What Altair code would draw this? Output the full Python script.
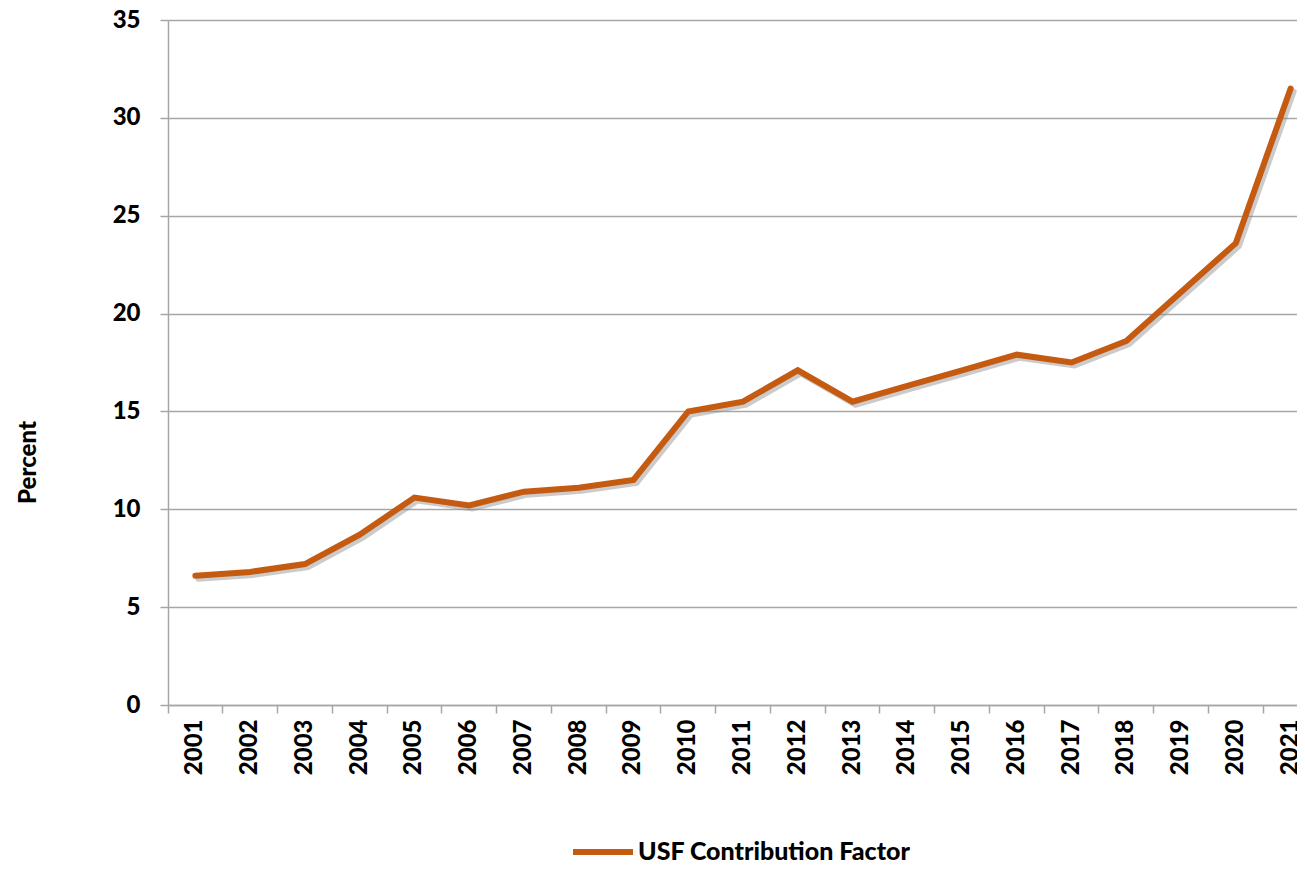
import altair as alt
import pandas as pd

years = ["2001", "2002", "2003", "2004", "2005", "2006", "2007", "2008", "2009", "2010",
         "2011", "2012", "2013", "2014", "2015", "2016", "2017", "2018", "2019", "2020", "2021"]
values = [6.6, 6.8, 7.2, 8.7, 10.6, 10.2, 10.9, 11.1, 11.5, 15.0,
          15.5, 17.1, 15.5, 16.3, 17.1, 17.9, 17.5, 18.6, 21.1, 23.6, 31.5]
series_name = "USF Contribution Factor"
y_ticks = [0, 5, 10, 15, 20, 25, 30, 35]

df = pd.DataFrame({"Year": years, "Percent": values, "Series": [series_name] * len(years)})

FONT = "Lato"
WEIGHT = 900
GRID = "#a6a6a6"

x_enc = alt.X(
    "Year:N", sort=years,
    scale=alt.Scale(type="band", range=[0, 1150], paddingInner=0, paddingOuter=0),
    axis=alt.Axis(
        title=None, labelAngle=-90, labelFont=FONT, labelFontSize=24, labelFontWeight=WEIGHT,
        labelColor="black", labelPadding=6, bandPosition=0, tickSize=8, tickColor=GRID,
        tickWidth=1.5, domainColor=GRID, domainWidth=1.5, grid=False,
    ),
)
y_enc = alt.Y(
    "Percent:Q",
    scale=alt.Scale(domain=[0, 35], nice=False),
    axis=alt.Axis(
        values=y_ticks, title="Percent", titleFont=FONT, titleFontSize=24, titleFontWeight=WEIGHT,
        titleColor="black", titleX=-140, titleY=442, titleAngle=270, titleAlign="center",
        titleBaseline="middle", labelFont=FONT, labelFontSize=24, labelFontWeight=WEIGHT,
        labelColor="black", labelPadding=20, tickSize=8, tickColor=GRID, tickWidth=1.5,
        domainColor=GRID, domainWidth=1.5, grid=True, gridColor=GRID, gridWidth=1.5,
    ),
)

shadow = alt.Chart(df).mark_line(
    color="#8c8c8c", opacity=0.45, strokeWidth=6, xOffset=3, yOffset=3, strokeCap="round"
).encode(x=x_enc, y=y_enc)

line = alt.Chart(df).mark_line(strokeWidth=6, strokeCap="round").encode(
    x=x_enc,
    y=y_enc,
    color=alt.Color(
        "Series:N",
        scale=alt.Scale(domain=[series_name], range=["#c55a11"]),
        legend=alt.Legend(
            title=None, orient="none", legendX=402, legendY=799, symbolType="stroke",
            symbolSize=3600, symbolStrokeWidth=6, symbolStrokeColor="#c55a11",
            labelFont=FONT, labelFontSize=25, labelFontWeight=WEIGHT, labelColor="black",
            labelOffset=2, labelLimit=0, padding=0,
        ),
    ),
)

chart = alt.layer(shadow, line).properties(
    width=1129, height=685,
    autosize=alt.AutoSizeParams(type="none"),
    padding={"left": 160, "top": 12, "right": 0, "bottom": 159},
).configure_view(stroke=None)

chart.save("out.html", embed_options={"renderer": "svg", "actions": False})
